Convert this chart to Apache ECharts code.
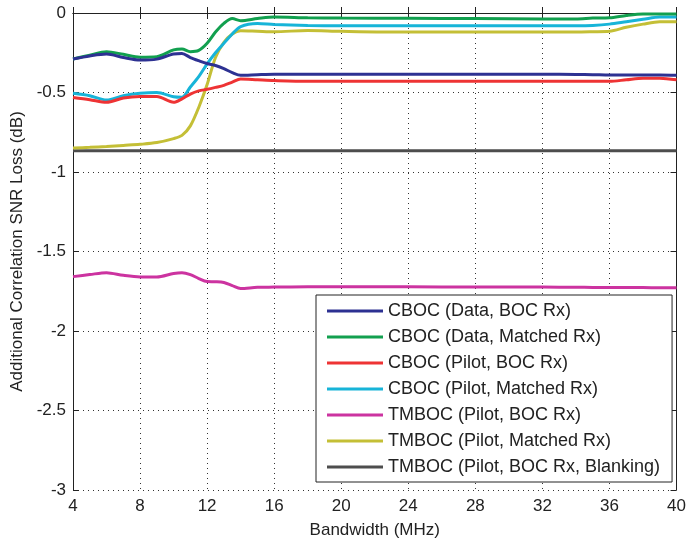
<!DOCTYPE html>
<html>
<head>
<meta charset="utf-8">
<script src="https://cdn.jsdelivr.net/npm/echarts@6/dist/echarts.min.js"></script>
<style>html,body{margin:0;padding:0;background:#fff;}#c{width:689px;height:544px;}</style>
</head>
<body>
<div id="c"></div>
<script>
const bandwidth = [4,5,6,7,8,9,10,10.5,11,11.5,12,12.5,13,13.5,14,15,16,18,20,24,28,32,34,35,36,37,38,39,40];

const cbocDataBoc = [-0.289,-0.27,-0.258,-0.28,-0.296,-0.29,-0.258,-0.255,-0.28,-0.3,-0.318,-0.33,-0.35,-0.375,-0.392,-0.388,-0.385,-0.385,-0.385,-0.385,-0.385,-0.385,-0.387,-0.388,-0.39,-0.39,-0.39,-0.39,-0.392];
const cbocDataMatched = [-0.289,-0.265,-0.243,-0.26,-0.278,-0.275,-0.232,-0.226,-0.243,-0.235,-0.19,-0.12,-0.065,-0.035,-0.048,-0.035,-0.025,-0.03,-0.032,-0.033,-0.035,-0.037,-0.037,-0.032,-0.03,-0.015,-0.006,-0.006,-0.006];
const cbocPilotBoc = [-0.531,-0.545,-0.562,-0.535,-0.525,-0.525,-0.562,-0.54,-0.51,-0.49,-0.48,-0.468,-0.455,-0.435,-0.415,-0.42,-0.425,-0.43,-0.43,-0.43,-0.43,-0.43,-0.43,-0.43,-0.43,-0.42,-0.41,-0.41,-0.42];
const cbocPilotMatched = [-0.505,-0.52,-0.547,-0.52,-0.505,-0.5,-0.527,-0.53,-0.465,-0.4,-0.32,-0.25,-0.19,-0.132,-0.085,-0.066,-0.072,-0.078,-0.08,-0.08,-0.08,-0.08,-0.08,-0.078,-0.07,-0.055,-0.04,-0.025,-0.025];
const tmbocPilotBoc = [-1.658,-1.645,-1.633,-1.65,-1.66,-1.66,-1.638,-1.633,-1.645,-1.67,-1.689,-1.69,-1.695,-1.715,-1.733,-1.725,-1.724,-1.722,-1.722,-1.722,-1.724,-1.724,-1.725,-1.726,-1.726,-1.727,-1.727,-1.728,-1.728];
const tmbocPilotMatched = [-0.849,-0.845,-0.84,-0.833,-0.826,-0.815,-0.79,-0.77,-0.71,-0.594,-0.45,-0.28,-0.185,-0.132,-0.112,-0.115,-0.118,-0.11,-0.115,-0.12,-0.12,-0.12,-0.12,-0.118,-0.115,-0.09,-0.07,-0.055,-0.055];
const tmbocBlanking = [-0.866,-0.866,-0.866,-0.866,-0.866,-0.866,-0.866,-0.866,-0.866,-0.866,-0.866,-0.866,-0.866,-0.866,-0.866,-0.866,-0.866,-0.866,-0.866,-0.866,-0.866,-0.866,-0.866,-0.866,-0.866,-0.866,-0.866,-0.866,-0.866];

const seriesNames = ['CBOC (Data, BOC Rx)','CBOC (Data, Matched Rx)','CBOC (Pilot, BOC Rx)','CBOC (Pilot, Matched Rx)','TMBOC (Pilot, BOC Rx)','TMBOC (Pilot, Matched Rx)','TMBOC (Pilot, BOC Rx, Blanking)'];
const seriesValues = [cbocDataBoc,cbocDataMatched,cbocPilotBoc,cbocPilotMatched,tmbocPilotBoc,tmbocPilotMatched,tmbocBlanking];
const seriesColors = ['#2d3192','#12a04f','#ee3334','#17b4d8','#cc33a0','#c4bf36','#4d4d4d'];

const FONT = 'Liberation Sans';
const chart = echarts.init(document.getElementById('c'));
const axisCommon = {
  axisLine: {show: true, lineStyle: {color: '#222', width: 1}},
  axisTick: {show: true, inside: true, length: 6, lineStyle: {color: '#222'}},
};
chart.setOption({
  backgroundColor: '#fff',
  animation: false,
  grid: {left: 73, right: 8, top: 13, bottom: 53, containLabel: false},
  xAxis: [{
    type: 'value', min: 4, max: 40, interval: 4, position: 'bottom',
    name: 'Bandwidth (MHz)', nameLocation: 'middle', nameGap: 32,
    nameTextStyle: {fontFamily: FONT, fontSize: 17, color: '#222'},
    axisLabel: {fontFamily: FONT, fontSize: 17, color: '#222', margin: 8},
    splitLine: {show: true, lineStyle: {color: '#333', type: [1, 4], width: 1}},
    ...axisCommon
  }, {
    type: 'value', min: 4, max: 40, interval: 4, position: 'top',
    axisLabel: {show: false}, splitLine: {show: false},
    ...axisCommon
  }],
  yAxis: [{
    type: 'value', min: -3, max: 0, interval: 0.5, position: 'left',
    name: 'Additional Correlation SNR Loss (dB)', nameLocation: 'middle', nameGap: 46,
    nameTextStyle: {fontFamily: FONT, fontSize: 17, color: '#222'},
    axisLabel: {fontFamily: FONT, fontSize: 17, color: '#222', margin: 7},
    splitLine: {show: true, lineStyle: {color: '#333', type: [1, 4], width: 1}},
    ...axisCommon
  }, {
    type: 'value', min: -3, max: 0, interval: 0.5, position: 'right',
    axisLabel: {show: false}, splitLine: {show: false},
    ...axisCommon
  }],
  legend: {
    orient: 'vertical', left: 316, top: 295,
    backgroundColor: '#fff', borderColor: '#222', borderWidth: 1,
    padding: [6, 12, 5, 11],
    itemWidth: 56, itemHeight: 3, itemGap: 6,
    icon: 'rect',
    textStyle: {fontFamily: FONT, fontSize: 18, color: '#222', lineHeight: 20, padding: [0,0,0,0]},
    data: seriesNames
  },
  series: seriesNames.map((n, i) => ({
    name: n, type: 'line', xAxisIndex: 0, yAxisIndex: 0,
    data: bandwidth.map((b, j) => [b, seriesValues[i][j]]),
    showSymbol: false, smooth: 0.3,
    lineStyle: {color: seriesColors[i], width: 3},
    itemStyle: {color: seriesColors[i]},
    z: 10 - i
  }))
});
</script>
</body>
</html>
